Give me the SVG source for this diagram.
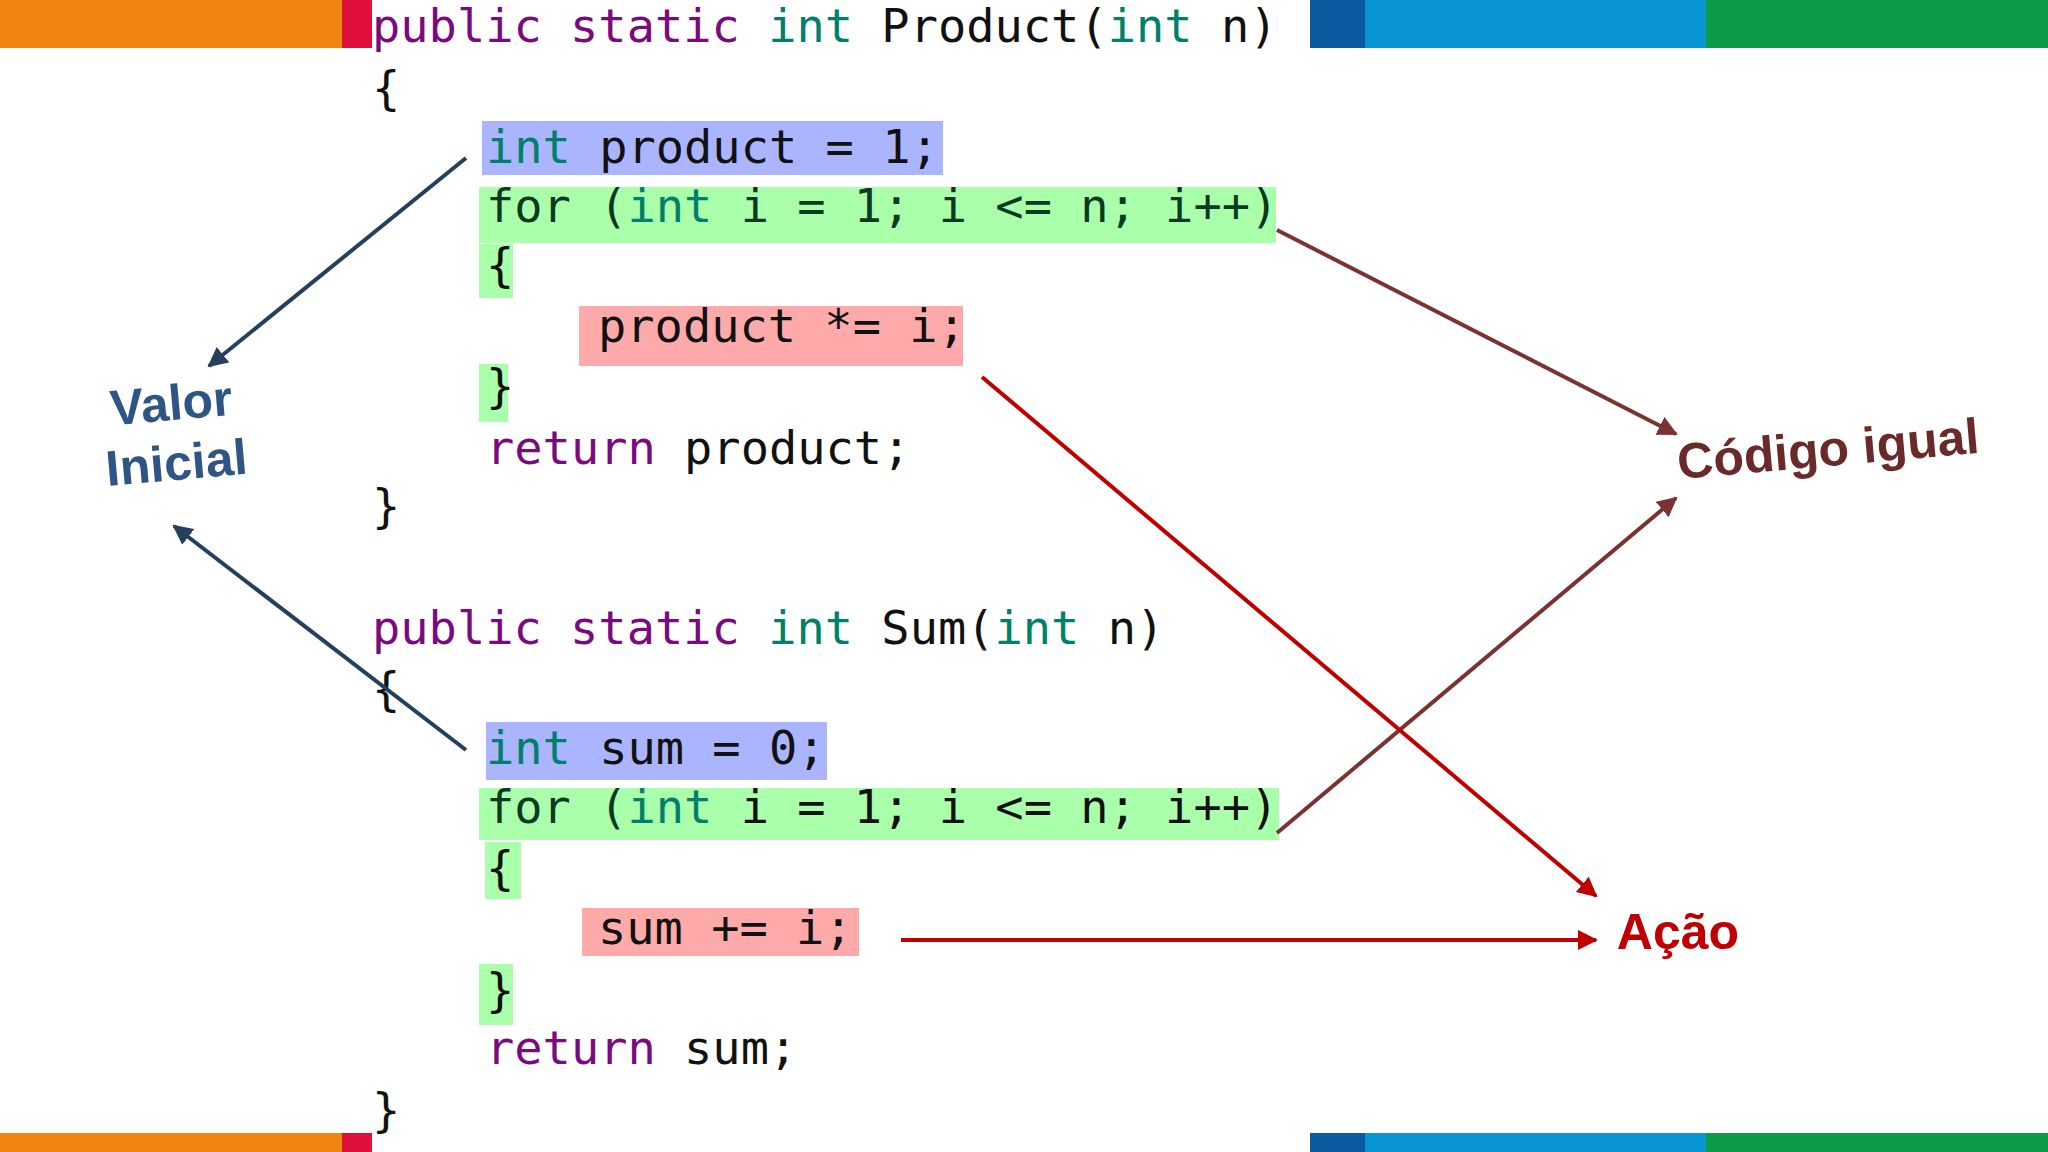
<svg xmlns="http://www.w3.org/2000/svg" width="2048" height="1152" viewBox="0 0 2048 1152">
<defs>
<style>
.c{font-family:"DejaVu Sans Mono","Liberation Mono",monospace;font-size:47px;fill:#111}
.k{fill:#7a0a80}.t{fill:#00806a}.d{fill:#0a3a20}
.hb{fill:#aab4ff}.hg{fill:#aaffaa}.hr{fill:#ffaaaa}
.lab{font-family:"Liberation Sans",Arial,sans-serif;font-weight:bold;font-size:50px}
</style>
<marker id="mb" viewBox="0 0 10 10" refX="9" refY="5" markerWidth="5" markerHeight="5" orient="auto"><path d="M0,0L10,5L0,10z" fill="#24405e"/></marker>
<marker id="mm" viewBox="0 0 10 10" refX="9" refY="5" markerWidth="5" markerHeight="5" orient="auto"><path d="M0,0L10,5L0,10z" fill="#7a3232"/></marker>
<marker id="mr" viewBox="0 0 10 10" refX="9" refY="5" markerWidth="5" markerHeight="5" orient="auto"><path d="M0,0L10,5L0,10z" fill="#c00000"/></marker>
</defs>
<rect width="2048" height="1152" fill="#fff"/>
<g id="bars">
<rect x="0" y="0" width="342" height="48" fill="#f0860f"/><rect x="342" y="0" width="30" height="48" fill="#e0103c"/>
<rect x="1310" y="0" width="55" height="48" fill="#0b5aa0"/><rect x="1365" y="0" width="341" height="48" fill="#0a96d4"/><rect x="1706" y="0" width="342" height="48" fill="#0d9a48"/>
<rect x="0" y="1133" width="342" height="19" fill="#f0860f"/><rect x="342" y="1133" width="30" height="19" fill="#e0103c"/>
<rect x="1310" y="1133" width="55" height="19" fill="#0b5aa0"/><rect x="1365" y="1133" width="341" height="19" fill="#0a96d4"/><rect x="1706" y="1133" width="342" height="19" fill="#0d9a48"/>
</g>
<g id="product">
<rect class="hb" x="482" y="121" width="461" height="54"/>
<rect class="hg" x="479" y="187" width="797" height="56"/>
<rect class="hg" x="479" y="244" width="34" height="54"/>
<rect class="hr" x="579" y="306" width="384" height="60"/>
<rect class="hg" x="479" y="364" width="29" height="58"/>
<text class="c" x="372" y="42"><tspan class="k">public static </tspan><tspan class="t">int</tspan> Product(<tspan class="t">int</tspan> n)</text>
<text class="c" x="372" y="104">{</text>
<text class="c" x="486" y="163"><tspan class="t">int</tspan> product = 1;</text>
<text class="c d" x="486" y="222"><tspan fill="#0a3a20">for (</tspan><tspan class="t">int</tspan> i = 1; i &lt;= n; i++)</text>
<text class="c" x="486" y="281">{</text>
<text class="c" x="598" y="342">product *= i;</text>
<text class="c" x="486" y="402">}</text>
<text class="c" x="486" y="464"><tspan class="k">return</tspan> product;</text>
<text class="c" x="372" y="522">}</text>
</g>
<g id="sum">
<rect class="hb" x="486" y="722" width="341" height="58"/>
<rect class="hg" x="479" y="788" width="800" height="52"/>
<rect class="hg" x="485" y="842" width="36" height="57"/>
<rect class="hr" x="582" y="908" width="277" height="48"/>
<rect class="hg" x="479" y="964" width="34" height="61"/>
<text class="c" x="372" y="644"><tspan class="k">public static </tspan><tspan class="t">int</tspan> Sum(<tspan class="t">int</tspan> n)</text>
<text class="c" x="372" y="705">{</text>
<text class="c" x="486" y="764"><tspan class="t">int</tspan> sum = 0;</text>
<text class="c" x="486" y="823"><tspan fill="#0a3a20">for (</tspan><tspan class="t">int</tspan> i = 1; i &lt;= n; i++)</text>
<text class="c" x="486" y="884">{</text>
<text class="c" x="598" y="944">sum += i;</text>
<text class="c" x="486" y="1006">}</text>
<text class="c" x="486" y="1064"><tspan class="k">return</tspan> sum;</text>
<text class="c" x="372" y="1126">}</text>
</g>
<g id="connectors" fill="none" stroke-width="4">
<line x1="466" y1="158" x2="209" y2="366" stroke="#24405e" marker-end="url(#mb)"/>
<line x1="466" y1="750" x2="174" y2="526" stroke="#24405e" marker-end="url(#mb)"/>
<line x1="1277" y1="230" x2="1676" y2="434" stroke="#7a3232" marker-end="url(#mm)"/>
<line x1="1277" y1="833" x2="1676" y2="498" stroke="#7a3232" marker-end="url(#mm)"/>
<line x1="982" y1="377" x2="1596" y2="896" stroke="#c00000" marker-end="url(#mr)"/>
<line x1="901" y1="940" x2="1596" y2="940" stroke="#c00000" marker-end="url(#mr)"/>
</g>
<g id="valor" transform="rotate(-5 174 435)">
<text class="lab" fill="#2e5586" text-anchor="middle" x="174" y="420">Valor</text>
<text class="lab" fill="#2e5586" text-anchor="middle" x="174" y="480">Inicial</text>
</g>
<g id="codigo"><text class="lab" fill="#6b2a2a" text-anchor="middle" x="1828" y="466" transform="rotate(-5 1828 448)">Código igual</text></g>
<g id="acao"><text class="lab" fill="#c00000" text-anchor="middle" x="1678" y="949">Ação</text></g>
</svg>
